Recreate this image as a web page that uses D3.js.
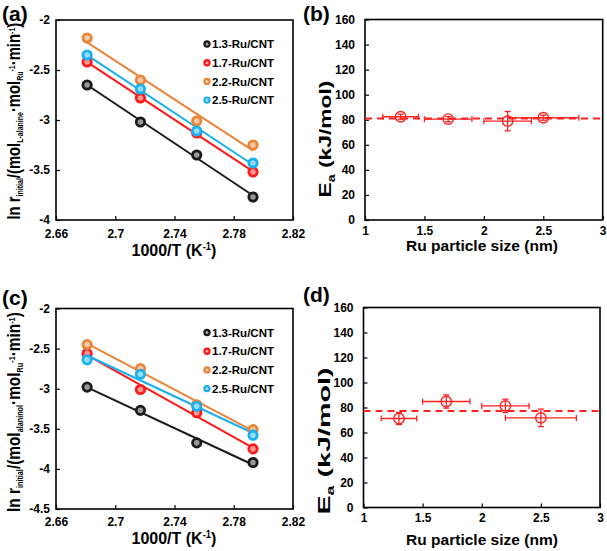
<!DOCTYPE html>
<html><head><meta charset="utf-8">
<script src="https://cdn.jsdelivr.net/npm/d3@7/dist/d3.min.js"></script>
<style>
html,body{margin:0;padding:0;background:#fff;}
svg{display:block;font-family:"Liberation Sans",Arial,sans-serif;}
</style></head>
<body>
<svg id="chart" width="607" height="551"></svg>
<script>
// ---------- data ----------
const seriesNames = ["1.3-Ru/CNT","1.7-Ru/CNT","2.2-Ru/CNT","2.5-Ru/CNT"];
const seriesColors = ["#1a1a1a","#ff1a1a","#ea8438","#1ab0ee"];
const invT = [2.681, 2.717, 2.755, 2.793];

const lnRateA_13 = [-2.65, -3.02, -3.35, -3.77];
const lnRateA_17 = [-2.42, -2.78, -3.13, -3.52];
const lnRateA_22 = [-2.18, -2.60, -3.01, -3.25];
const lnRateA_25 = [-2.35, -2.69, -3.11, -3.43];

const lnRateC_13 = [-2.98, -3.27, -3.675, -3.92];
const lnRateC_17 = [-2.56, -3.01, -3.30, -3.75];
const lnRateC_22 = [-2.45, -2.75, -3.20, -3.51];
const lnRateC_25 = [-2.64, -2.82, -3.22, -3.58];

const xTicksT = [2.66, 2.70, 2.74, 2.78, 2.82];
const xTickLabelsT = ["2.66","2.7","2.74","2.78","2.82"];
const yTicksA = [-2, -2.5, -3, -3.5, -4];
const yTicksC = [-2, -2.5, -3, -3.5, -4, -4.5];

const particleSize = [1.3, 1.7, 2.2, 2.5];
const particleSizeErr = [0.15, 0.2, 0.2, 0.3];
const EaB = [82.4, 80.5, 78.9, 81.6];
const EaBErr = [2.0, 2.0, 7.7, 2.0];
const EaBMean = 80.9;
const EaD = [71.2, 84.8, 81.3, 71.7];
const EaDErr = [4.8, 5.3, 5.3, 7.0];
const EaDMean = 77.2;
const xTicksSize = [1, 1.5, 2, 2.5, 3];
const yTicksEa = [0, 20, 40, 60, 80, 100, 120, 140, 160];

// ---------- helpers ----------
const svg = d3.select("#chart");
const FONT_BOLD = "bold";

function frame(g, x, y, tickVals, tickFmt, yTicks, xPad, yPad) {
  const xr = x.range(), yr = y.range();
  g.append("g").attr("transform", `translate(0,${yr[0]})`)
    .call(d3.axisBottom(x).tickValues(tickVals).tickFormat((d,i)=>tickFmt[i]).tickSizeInner(-4).tickSizeOuter(0).tickPadding(xPad))
    .call(a => { a.select(".domain").remove(); a.selectAll("line").attr("stroke","#000").attr("stroke-width",1.2);
      a.selectAll("text").attr("font-size",12).attr("font-weight",FONT_BOLD).attr("fill","#000").attr("font-family","Liberation Sans, Arial, sans-serif"); });
  g.append("g").attr("transform", `translate(${xr[0]},0)`)
    .call(d3.axisLeft(y).tickValues(yTicks).tickFormat(d3.format("")).tickSizeInner(-4).tickSizeOuter(0).tickPadding(yPad))
    .call(a => { a.select(".domain").remove(); a.selectAll("line").attr("stroke","#000").attr("stroke-width",1.2);
      a.selectAll("text").attr("font-size",12).attr("font-weight",FONT_BOLD).attr("fill","#000").attr("font-family","Liberation Sans, Arial, sans-serif")
        .text(d => String(d).replace("−","-")); });
  g.append("rect").attr("x", xr[0]).attr("y", yr[1]).attr("width", xr[1]-xr[0]).attr("height", yr[0]-yr[1])
    .attr("fill","none").attr("stroke","#000").attr("stroke-width",1.6);
}

function title(g, cx, cy, rot, parts, fontSize, targetLen) {
  const t = g.append("text").attr("font-size", fontSize).attr("font-weight", FONT_BOLD).attr("fill","#000");
  parts.forEach(p => {
    const ts = t.append("tspan").text(p.t);
    if (p.s) ts.attr("font-size", p.s);
    if (p.dy) ts.attr("dy", p.dy);
  });
  const bb = t.node().getBBox();
  const w = bb.width;
  const k = targetLen ? targetLen / w : 1;
  t.attr("transform", `translate(${cx},${cy}) rotate(${rot}) scale(${k},1) translate(${-bb.x - w/2},0)`);
}

function panelLabel(txt, x, y) {
  svg.append("text").attr("x", x).attr("y", y).attr("font-size", 21).attr("font-weight", FONT_BOLD).text(txt);
}

function arrheniusPanel(box, yDomain, yTicks, dataSets, subLabel, yTitleBox, xTitlePos, xPad) {
  const g = svg.append("g");
  const x = d3.scaleLinear().domain([2.66, 2.82]).range([box.l, box.r]);
  const y = d3.scaleLinear().domain(yDomain).range([box.b, box.t]);
  frame(g, x, y, xTicksT, xTickLabelsT, yTicks, xPad, 6);
  // fitted lines (least squares of each series)
  dataSets.forEach((vals, i) => {
    const n = invT.length;
    const mx = d3.mean(invT), my = d3.mean(vals);
    let sxy = 0, sxx = 0;
    for (let j = 0; j < n; j++) { sxy += (invT[j]-mx)*(vals[j]-my); sxx += (invT[j]-mx)**2; }
    const slope = sxy/sxx, icp = my - slope*mx;
    const x0 = invT[0], x1 = invT[n-1];
    g.append("line").attr("x1", x(x0)).attr("y1", y(icp+slope*x0)).attr("x2", x(x1)).attr("y2", y(icp+slope*x1))
      .attr("stroke", seriesColors[i]).attr("stroke-width", 2);
  });
  dataSets.forEach((vals, i) => {
    g.selectAll(null).data(vals).enter().append("circle")
      .attr("cx", (d,j) => x(invT[j])).attr("cy", d => y(d)).attr("r", 4.2)
      .attr("fill", d3.interpolateRgb(seriesColors[i], "#fff")(0.55))
      .attr("stroke", seriesColors[i]).attr("stroke-width", 2.8);
  });
  // legend
  const lg = g.append("g");
  seriesNames.forEach((nm, i) => {
    const ly = box.t + 24 + i*18.7;
    lg.append("circle").attr("cx", box.l + 151).attr("cy", ly).attr("r", 2.6)
      .attr("fill", d3.interpolateRgb(seriesColors[i], "#fff")(0.6)).attr("stroke", seriesColors[i]).attr("stroke-width", 2.2);
    lg.append("text").attr("x", box.l + 156).attr("y", ly + 4.2).attr("font-size", 11.5).attr("font-weight", FONT_BOLD).text(nm);
  });
  // y title
  title(g, yTitleBox.x, yTitleBox.y, -90, [
    {t:"ln r"}, {t:"initial", s:8.5, dy:3}, {t:"/(mol", dy:-3}, {t:subLabel, s:8.5, dy:3},
    {t:"·mol", dy:-3}, {t:"Ru", s:8.5, dy:3}, {t:"-1", s:8.5, dy:-8}, {t:"·min", dy:5}, {t:"-1", s:8.5, dy:-5}, {t:")", dy:5}
  ], 18, yTitleBox.len);
  // x title
  title(g, xTitlePos.x, xTitlePos.y, 0, [{t:"1000/T (K"}, {t:"-1", s:10, dy:-6}, {t:")", dy:6}], 17, xTitlePos.len);
}

function eaPanel(box, vals, errs, mean, yTitleBox, xTitlePos, xPad) {
  const g = svg.append("g");
  const red = "#ff2222";
  const x = d3.scaleLinear().domain([1, 3]).range([box.l, box.r]);
  const y = d3.scaleLinear().domain([0, 160]).range([box.b, box.t]);
  frame(g, x, y, xTicksSize, xTicksSize.map(String), yTicksEa, xPad, 10);
  g.append("line").attr("x1", x(1)).attr("x2", x(3)).attr("y1", y(mean)).attr("y2", y(mean))
    .attr("stroke", red).attr("stroke-width", 2).attr("stroke-dasharray", "7,5");
  vals.forEach((v, i) => {
    const cx = x(particleSize[i]), cy = y(v);
    const xl = x(particleSize[i]-particleSizeErr[i]), xr = x(particleSize[i]+particleSizeErr[i]);
    const yt = y(v+errs[i]), yb = y(v-errs[i]);
    const L = (a,b,c,d) => g.append("line").attr("x1",a).attr("y1",b).attr("x2",c).attr("y2",d)
      .attr("stroke", red).attr("stroke-width", 1.3);
    L(xl, cy, xr, cy); L(xl, cy-3, xl, cy+3); L(xr, cy-3, xr, cy+3);
    L(cx, yt, cx, yb); L(cx-3, yt, cx+3, yt); L(cx-3, yb, cx+3, yb);
    g.append("circle").attr("cx", cx).attr("cy", cy).attr("r", 5.2).attr("fill", "none").attr("stroke", red).attr("stroke-width", 1.4);
  });
  title(g, yTitleBox.x, yTitleBox.y, -90, [{t:"E"}, {t:"a", s:10, dy:4}, {t:" (kJ/mol)", dy:-4}], 16, yTitleBox.len);
  title(g, xTitlePos.x, xTitlePos.y, 0, [{t:"Ru particle size (nm)"}], 15.5, xTitlePos.len);
}

// ---------- panels ----------
arrheniusPanel({l:56, r:293, t:20, b:220}, [-4, -2], yTicksA,
  [lnRateA_13, lnRateA_17, lnRateA_22, lnRateA_25], "L-alanine",
  {x:20, y:121, len:197}, {x:174, y:256, len:85}, 9);
arrheniusPanel({l:56, r:293, t:308.5, b:509}, [-4.5, -2], yTicksC,
  [lnRateC_13, lnRateC_17, lnRateC_22, lnRateC_25], "alaninol",
  {x:20, y:412, len:200}, {x:174, y:544, len:85}, 8);

eaPanel({l:365, r:602.7, t:19.5, b:220}, EaB, EaBErr, EaBMean, {x:331, y:139, len:117}, {x:482, y:251, len:152}, 6);
eaPanel({l:363.5, r:600, t:307.5, b:507.5}, EaD, EaDErr, EaDMean, {x:330, y:441, len:147}, {x:482, y:545, len:152}, 6);

panelLabel("(a)", 2, 21);
panelLabel("(b)", 303, 21);
panelLabel("(c)", 2, 305);
panelLabel("(d)", 303, 302);
</script>
</body></html>
